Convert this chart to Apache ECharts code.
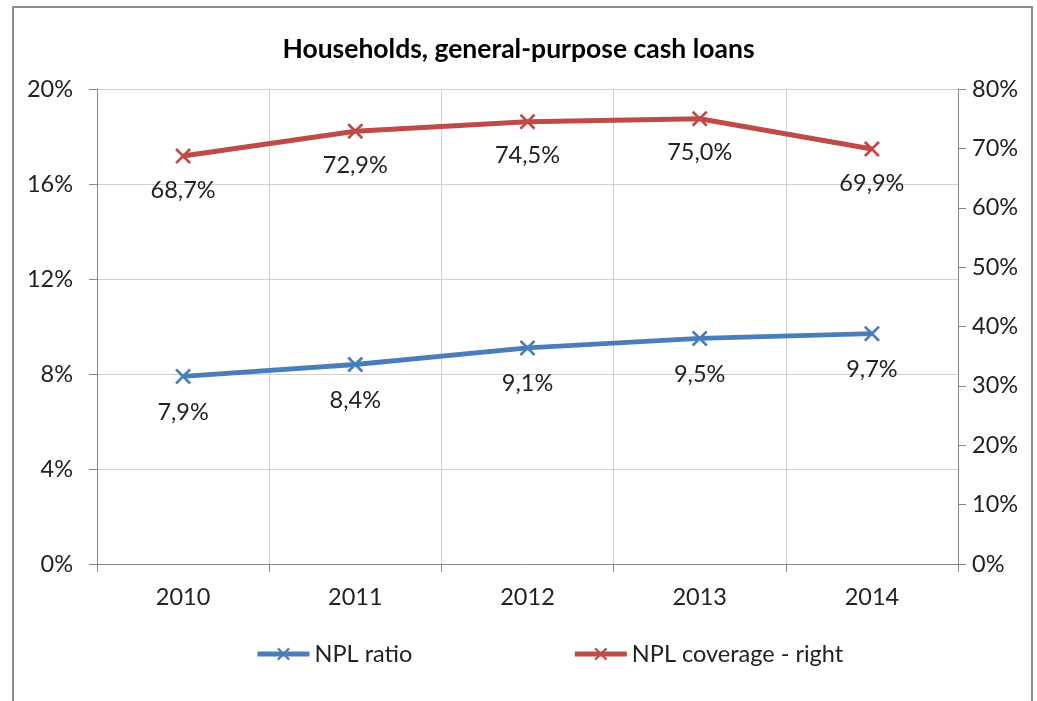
<!DOCTYPE html>
<html>
<head>
<meta charset="utf-8">
<script src="https://cdn.jsdelivr.net/npm/echarts@6/dist/echarts.min.js"></script>
<style>html,body{margin:0;padding:0;background:#fff}#c{width:1037px;height:701px}</style>
</head>
<body>
<div id="c"></div>
<script>
var categories = ['2010', '2011', '2012', '2013', '2014'];
var nplRatio = [7.9, 8.4, 9.1, 9.5, 9.7];
var nplCoverage = [68.7, 72.9, 74.5, 75.0, 69.9];
var seriesNames = ['NPL ratio', 'NPL coverage - right'];
var titleText = 'Households, general-purpose cash loans';

var FONT = 'Lato, "Noto Sans", sans-serif';
var FS = 23.5;
var xMark = 'path://M0,1.2L1.2,0L5,3.8L8.8,0L10,1.2L6.2,5L10,8.8L8.8,10L5,6.2L1.2,10L0,8.8L3.8,5Z';
function fmt(p) { return String(p.value.toFixed(1)).replace('.', ',') + '%'; }

var chart = echarts.init(document.getElementById('c'));
chart.setOption({
  animation: false,
  backgroundColor: '#fff',
  textStyle: { fontFamily: FONT },
  graphic: [{
    type: 'rect', shape: { x: 13, y: 7, width: 1019, height: 710 },
    style: { fill: 'none', stroke: '#8c8c8c', lineWidth: 2 }, silent: true
  }],
  title: {
    text: titleText, left: 'center', top: 31,
    textStyle: { fontFamily: FONT, fontSize: 26.5, fontWeight: 'bold', color: '#000' }
  },
  legend: {
    bottom: 30, left: 250, itemGap: 160, itemWidth: 52, itemHeight: 16,
    lineStyle: { width: 5 },
    textStyle: { fontFamily: FONT, fontSize: FS, color: '#222' },
    data: seriesNames
  },
  grid: { left: 97, right: 79, top: 89, bottom: 137 },
  xAxis: {
    type: 'category', data: categories, boundaryGap: true,
    axisLine: { lineStyle: { color: '#868686', width: 1 } },
    axisTick: { show: true, length: 8, lineStyle: { color: '#868686' } },
    axisLabel: { fontFamily: FONT, fontSize: FS, color: '#222', margin: 21 },
    splitLine: { show: true, lineStyle: { color: '#d0d0d0', width: 1 } }
  },
  yAxis: [{
    type: 'value', min: 0, max: 20, interval: 4, position: 'left',
    axisLine: { show: true, lineStyle: { color: '#868686' } },
    axisTick: { show: true, length: 8, lineStyle: { color: '#868686' } },
    axisLabel: { fontFamily: FONT, fontSize: FS, color: '#222', margin: 24, formatter: '{value}%' },
    splitLine: { show: true, lineStyle: { color: '#d0d0d0', width: 1 } }
  }, {
    type: 'value', min: 0, max: 80, interval: 10, position: 'right',
    axisLine: { show: true, lineStyle: { color: '#868686' } },
    axisTick: { show: true, length: 8, lineStyle: { color: '#868686' } },
    axisLabel: { fontFamily: FONT, fontSize: FS, color: '#222', margin: 14, formatter: '{value}%' },
    splitLine: { show: false }
  }],
  series: [{
    name: seriesNames[0], type: 'line', yAxisIndex: 0, data: nplRatio,
    color: '#4a7ebb', lineStyle: { width: 5, color: '#4a7ebb' },
    symbol: xMark, symbolSize: 16, itemStyle: { color: '#4a7ebb' },
    label: { show: true, position: 'bottom', distance: 16, fontFamily: FONT, fontSize: FS, color: '#222', formatter: fmt }
  }, {
    name: seriesNames[1], type: 'line', yAxisIndex: 1, data: nplCoverage,
    color: '#be4b48', lineStyle: { width: 5, color: '#be4b48' },
    symbol: xMark, symbolSize: 16, itemStyle: { color: '#be4b48' },
    label: { show: true, position: 'bottom', distance: 14, fontFamily: FONT, fontSize: FS, color: '#222', formatter: fmt }
  }]
});
</script>
</body>
</html>
